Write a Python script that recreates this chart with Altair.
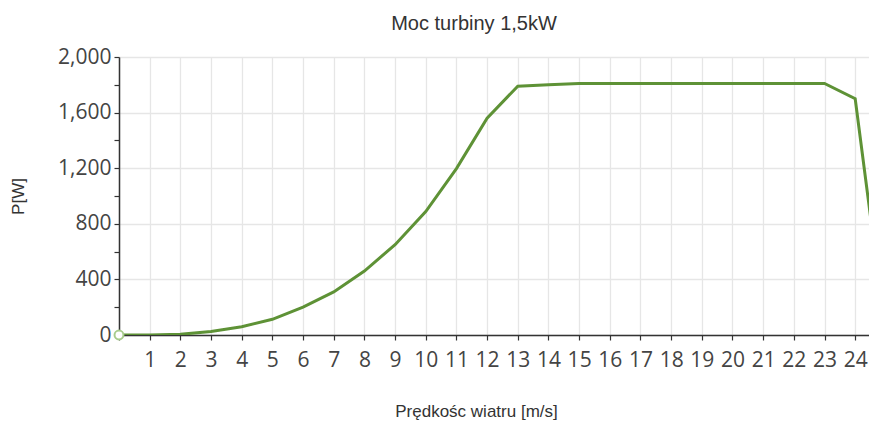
import altair as alt
import pandas as pd

# Data
wind_speed = list(range(0, 26))
power_w = [0, 0, 5, 25, 60, 113, 200, 310, 460, 650, 888, 1197, 1560,
           1790, 1800, 1810, 1810, 1810, 1810, 1810, 1810, 1810, 1810,
           1810, 1700, 0]
x_ticks = list(range(0, 25))
y_ticks = list(range(0, 2001, 200))

df = pd.DataFrame({"v": wind_speed, "p": power_w})
first = df.iloc[[0]]

LINE = "#5e9236"
LABEL_FONT = "Open Sans"
TITLE_FONT = "Liberation Sans"

x_enc = alt.X(
    "v:Q",
    scale=alt.Scale(domain=[0, 24.45], nice=False, zero=False),
    axis=alt.Axis(
        title="Prędkośc wiatru [m/s]",
        values=x_ticks,
        labelExpr="datum.value == 0 ? '' : format(datum.value, 'd')",
        labelFont=LABEL_FONT, labelFontSize=21, labelColor="#444444",
        labelPadding=9, labelFlush=False, labelOverlap=False,
        tickSize=5, tickColor="#333333", tickWidth=1.2,
        domainColor="#333333", domainWidth=1.5,
        gridColor="#e6e6e6", gridWidth=1.3,
        titleFont=TITLE_FONT, titleFontSize=17, titleFontWeight="normal",
        titleColor="#333333", titleX=357, titleY=81,
        titleAnchor="middle", titleAlign="center", titleBaseline="alphabetic",
    ),
)

y_enc = alt.Y(
    "p:Q",
    scale=alt.Scale(domain=[0, 2000], nice=False),
    axis=alt.Axis(
        title="P[W]",
        values=y_ticks,
        labelExpr="datum.value % 400 == 0 ? format(datum.value, ',') : ''",
        labelFont=LABEL_FONT, labelFontSize=21, labelColor="#444444",
        labelPadding=3, labelFlush=False, labelOverlap=False,
        tickSize=5, tickColor="#333333", tickWidth=1.2,
        domainColor="#333333", domainWidth=1.5,
        gridColor="#e6e6e6", gridWidth=1.3,
        gridOpacity={"condition": {"test": "datum.value % 400 != 0", "value": 0}, "value": 1},
        titleFont=TITLE_FONT, titleFontSize=17, titleFontWeight="normal",
        titleColor="#333333", titleX=-101, titleY=139, titleAngle=270,
        titleAlign="center", titleBaseline="middle",
    ),
)

line = alt.Chart(df).mark_line(color=LINE, strokeWidth=3, clip=True).encode(
    x=x_enc, y=y_enc
)

dot = alt.Chart(first).mark_point(
    filled=True, fill="white", stroke="#a8cc8c", strokeWidth=2, size=80, opacity=1
).encode(x=x_enc, y=y_enc)

chart = (
    alt.layer(line, dot)
    .properties(
        width=750,
        height=278,
        autosize=alt.AutoSizeParams(type="none"),
        padding={"left": 111, "top": 49, "right": 0, "bottom": 85},
        title=alt.TitleParams(
            "Moc turbiny 1,5kW",
            font=TITLE_FONT, fontSize=20, fontWeight="normal", color="#333333",
            anchor="middle", frame="group", dx=-20, dy=22, offset=18,
            baseline="alphabetic",
        ),
    )
    .configure_view(stroke=None)
    .configure(background="white")
)

chart.save("out.html", embed_options={"renderer": "svg", "actions": False})
